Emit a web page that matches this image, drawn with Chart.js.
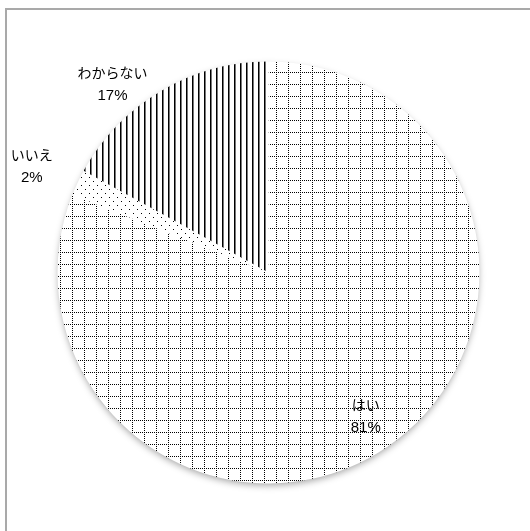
<!DOCTYPE html>
<html lang="ja">
<head>
<meta charset="utf-8">
<script src="https://cdn.jsdelivr.net/npm/chart.js@4/dist/chart.umd.min.js"></script>
<style>
  html, body { margin: 0; padding: 0; background: #fff; }
  #wrap { position: relative; width: 530px; height: 531px; }
</style>
</head>
<body>
<div id="wrap"><canvas id="pieChart" width="530" height="531"></canvas></div>
<script>
const answerLabels = ['はい', 'いいえ', 'わからない'];
const answerShares = [81, 2, 17];

// Label placement per slice: distance as a fraction of the radius, and an angle nudge in degrees
const labelRadius = [0.82, 1.23, 1.16];
const labelAngleShift = [0, -1, -9];

function makeTile(w, h, draw) {
  const c = document.createElement('canvas');
  c.width = w;
  c.height = h;
  const g = c.getContext('2d');
  g.fillStyle = '#fff';
  g.fillRect(0, 0, w, h);
  draw(g);
  return document.getElementById('pieChart').getContext('2d').createPattern(c, 'repeat');
}

// dotted grid
const gridPattern = makeTile(12, 12, (g) => {
  g.fillStyle = '#000';
  for (let i = 0; i < 12; i += 2) {
    g.fillRect(i, 0, 1, 1);
    g.fillRect(0, i, 1, 1);
  }
});

// sparse dots
const dotPattern = makeTile(8, 8, (g) => {
  g.fillStyle = '#000';
  g.fillRect(1, 1, 1, 1);
  g.fillRect(5, 5, 1, 1);
});

// vertical stripes
const stripePattern = makeTile(6, 6, (g) => {
  g.fillStyle = '#000';
  g.fillRect(0, 0, 1, 6);
  g.fillStyle = '#777';
  g.fillRect(1, 0, 1, 6);
});

const framePlugin = {
  id: 'frame',
  beforeDraw(chart) {
    const { ctx } = chart;
    ctx.save();
    ctx.fillStyle = '#fff';
    ctx.fillRect(0, 0, chart.width, chart.height);
    ctx.fillStyle = '#a9a9a9';
    ctx.fillRect(5, 8, chart.width, 2);
    ctx.fillRect(5, 8, 2, chart.height);
    ctx.restore();
  },
  beforeDatasetsDraw(chart) {
    const arc = chart.getDatasetMeta(0).data[0];
    if (!arc) return;
    const { ctx } = chart;
    ctx.save();
    ctx.shadowColor = 'rgba(0,0,0,0.35)';
    ctx.shadowBlur = 7;
    ctx.shadowOffsetY = 3;
    ctx.fillStyle = '#fff';
    ctx.beginPath();
    ctx.arc(arc.x, arc.y, arc.outerRadius - 1, 0, Math.PI * 2);
    ctx.fill();
    ctx.restore();
  }
};

const labelPlugin = {
  id: 'sliceLabels',
  afterDatasetsDraw(chart) {
    const { ctx } = chart;
    const meta = chart.getDatasetMeta(0);
    ctx.save();
    ctx.fillStyle = '#000';
    ctx.textAlign = 'center';
    ctx.textBaseline = 'middle';
    meta.data.forEach((arc, i) => {
      const mid = (arc.startAngle + arc.endAngle) / 2 + labelAngleShift[i] * Math.PI / 180;
      const r = arc.outerRadius * labelRadius[i];
      const x = arc.x + Math.cos(mid) * r;
      const y = arc.y + Math.sin(mid) * r;
      ctx.font = '14px "Noto Sans CJK JP", sans-serif';
      ctx.fillText(answerLabels[i], x, y - 11);
      ctx.font = '15px "Liberation Sans", sans-serif';
      ctx.fillText(`${answerShares[i]}%`, x, y + 12);
    });
    ctx.restore();
  }
};

new Chart(document.getElementById('pieChart'), {
  type: 'pie',
  data: {
    labels: answerLabels,
    datasets: [
      {
        data: answerShares,
        backgroundColor: [gridPattern, dotPattern, stripePattern],
        borderWidth: 0,
        hoverOffset: 0
      }
    ]
  },
  options: {
    responsive: false,
    animation: false,
    layout: {
      padding: { left: 57.5, right: 50.5, top: 61.5, bottom: 47.5 }
    },
    plugins: {
      legend: { display: false },
      tooltip: { enabled: false }
    }
  },
  plugins: [framePlugin, labelPlugin]
});
</script>
</body>
</html>
